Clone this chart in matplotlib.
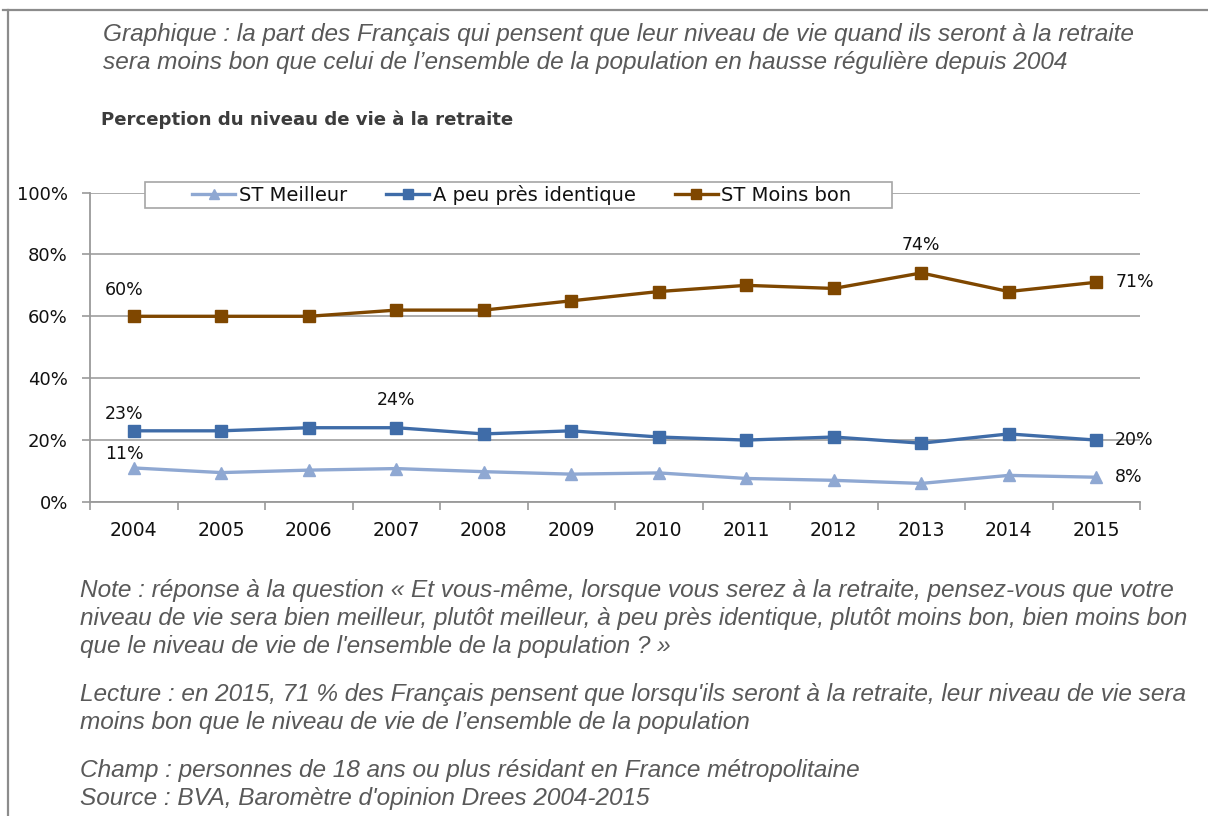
import matplotlib
matplotlib.use("Agg")
import matplotlib.pyplot as plt
from matplotlib.lines import Line2D
from matplotlib.patches import Rectangle
from matplotlib.ticker import FixedLocator

years = ["2004", "2005", "2006", "2007", "2008", "2009", "2010", "2011", "2012", "2013", "2014", "2015"]
st_meilleur = [11, 9.5, 10.3, 10.8, 9.8, 9, 9.4, 7.6, 7, 6, 8.6, 8]
peu_pres_identique = [23, 23, 24, 24, 22, 23, 21, 20, 21, 19, 22, 20]
st_moins_bon = [60, 60, 60, 62, 62, 65, 68, 70, 69, 74, 68, 71]
series_names = ["ST Meilleur", "A peu près identique", "ST Moins bon"]
y_ticks = [0, 20, 40, 60, 80, 100]

W, H = 1208, 816
fig = plt.figure(figsize=(W / 100, H / 100), dpi=100)


def fx(x):
    return x / W


def fy(y):
    return 1 - y / H


# frame border (top and left)
fig.add_artist(Line2D([fx(3), 1.0], [fy(10), fy(10)], color="#8c8c8c", lw=1.6))
fig.add_artist(Line2D([fx(8), fx(8)], [fy(10), 0.0], color="#8c8c8c", lw=1.6))

gray_text = "#595959"
TS = 17.6
fig.text(fx(103), fy(35), "Graphique : la part des Français qui pensent que leur niveau de vie quand ils seront à la retraite",
         family="Liberation Sans", style="italic", size=TS, color=gray_text, va="center", ha="left")
fig.text(fx(103), fy(63), "sera moins bon que celui de l\u2019ensemble de la population en hausse régulière depuis 2004",
         family="Liberation Sans", style="italic", size=TS, color=gray_text, va="center", ha="left")
fig.text(fx(101), fy(120), "Perception du niveau de vie à la retraite",
         family="DejaVu Sans", weight="bold", size=13.1, color="#3c3c3c", va="center", ha="left")

notes = [
    (591, "Note : réponse à la question « Et vous-même, lorsque vous serez à la retraite, pensez-vous que votre"),
    (619, "niveau de vie sera bien meilleur, plutôt meilleur, à peu près identique, plutôt moins bon, bien moins bon"),
    (647, "que le niveau de vie de l'ensemble de la population ? »"),
    (694, "Lecture : en 2015, 71 % des Français pensent que lorsqu'ils seront à la retraite, leur niveau de vie sera"),
    (722, "moins bon que le niveau de vie de l\u2019ensemble de la population"),
    (770, "Champ : personnes de 18 ans ou plus résidant en France métropolitaine"),
    (798, "Source : BVA, Baromètre d'opinion Drees 2004-2015"),
]
for y, t in notes:
    fig.text(fx(80), fy(y), t, family="Liberation Sans", style="italic", size=TS,
             color=gray_text, va="center", ha="left")

ax = fig.add_axes([fx(90), fy(502), fx(1140) - fx(90), fy(192.5) - fy(502)])
x = list(range(len(years)))

c_meil = "#8FA8D2"
c_ident = "#3F6CA8"
c_moins = "#7F4700"

ax.plot(x, st_meilleur, color=c_meil, lw=2.4, marker="^", ms=9, mec=c_meil, mfc=c_meil,
        label=series_names[0], zorder=3)
ax.plot(x, peu_pres_identique, color=c_ident, lw=2.4, marker="s", ms=8.5, mec=c_ident, mfc=c_ident,
        label=series_names[1], zorder=3)
ax.plot(x, st_moins_bon, color=c_moins, lw=2.4, marker="s", ms=8.5, mec=c_moins, mfc=c_moins,
        label=series_names[2], zorder=3)

ax.set_xlim(-0.5, len(years) - 0.5)
ax.set_ylim(0, 100)
ax.set_yticks(y_ticks)
ax.set_yticklabels([f"{v}%" for v in y_ticks])
ax.set_xticks(x)
ax.set_xticklabels(years)
ax.xaxis.set_minor_locator(FixedLocator([i - 0.5 for i in range(len(years) + 1)]))
ax.tick_params(axis="x", which="major", length=0, pad=14, labelsize=13.5, labelcolor="#111111")
ax.tick_params(axis="x", which="minor", length=6, width=1.2, color="#9a9a9a", direction="out")
ax.tick_params(axis="y", which="major", length=6, width=1.2, color="#9a9a9a", pad=10,
               labelsize=13, labelcolor="#111111")
for lab in ax.get_xticklabels() + ax.get_yticklabels():
    lab.set_family("DejaVu Sans")

ax.grid(axis="y", color="#a6a6a6", lw=1.3)
ax.set_axisbelow(True)
for s in ["top", "right"]:
    ax.spines[s].set_visible(False)
for s in ["left", "bottom"]:
    ax.spines[s].set_color("#9a9a9a")
    ax.spines[s].set_linewidth(1.3)

lab_kw = dict(size=12.5, color="#111111", family="DejaVu Sans")
ax.annotate(f"{st_moins_bon[0]}%", (0, st_moins_bon[0]), xytext=(-29, 26), textcoords="offset pixels", ha="left", va="center", **lab_kw)
ax.annotate(f"{peu_pres_identique[0]}%", (0, peu_pres_identique[0]), xytext=(-29, 17), textcoords="offset pixels", ha="left", va="center", **lab_kw)
ax.annotate(f"{int(st_meilleur[0])}%", (0, st_meilleur[0]), xytext=(-29, 14), textcoords="offset pixels", ha="left", va="center", **lab_kw)
ax.annotate(f"{peu_pres_identique[3]}%", (3, peu_pres_identique[3]), xytext=(0, 28), textcoords="offset pixels", ha="center", va="center", **lab_kw)
ax.annotate(f"{st_moins_bon[9]}%", (9, st_moins_bon[9]), xytext=(0, 28), textcoords="offset pixels", ha="center", va="center", **lab_kw)
ax.annotate(f"{st_moins_bon[11]}%", (11, st_moins_bon[11]), xytext=(19, 0), textcoords="offset pixels", ha="left", va="center", **lab_kw)
ax.annotate(f"{peu_pres_identique[11]}%", (11, peu_pres_identique[11]), xytext=(19, 0), textcoords="offset pixels", ha="left", va="center", **lab_kw)
ax.annotate(f"{int(st_meilleur[11])}%", (11, st_meilleur[11]), xytext=(19, 0), textcoords="offset pixels", ha="left", va="center", **lab_kw)

# legend frame drawn as a box in figure coordinates
fig.add_artist(Rectangle((fx(145), fy(208)), fx(892) - fx(145), fy(182) - fy(208),
                         facecolor="white", edgecolor="#a6a6a6", lw=1.2, zorder=5))
leg = fig.legend(*ax.get_legend_handles_labels(), loc="center", bbox_to_anchor=(fx(522), fy(195)), ncol=3,
                 frameon=False, prop={"family": "DejaVu Sans", "size": 14}, handlelength=2.2,
                 columnspacing=2.0, handletextpad=0.2, borderpad=0.0, markerscale=0.85)
leg.set_zorder(6)
for t in leg.get_texts():
    t.set_color("#111111")

fig.savefig("out.png", dpi=100)
